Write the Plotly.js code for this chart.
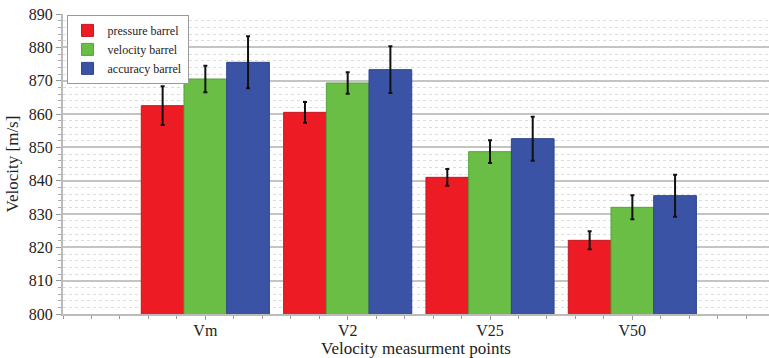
<!DOCTYPE html>
<html>
<head>
<meta charset="utf-8">
<script src="https://cdn.plot.ly/plotly-3.0.1.min.js"></script>
<style>html,body{margin:0;padding:0;background:#fff;}#chart{width:769px;height:358px;}</style>
</head>
<body>
<div id="chart"></div>
<script>
var categories = ["Vm", "V2", "V25", "V50"];
var seriesNames = ["pressure barrel", "velocity barrel", "accuracy barrel"];
var pressureValues = [862.5, 860.5, 841.0, 822.1];
var pressureErrors = [5.8, 3.1, 2.5, 2.7];
var velocityValues = [870.5, 869.3, 848.7, 832.0];
var velocityErrors = [4.0, 3.2, 3.4, 3.6];
var accuracyValues = [875.5, 873.3, 852.6, 835.5];
var accuracyErrors = [7.8, 7.0, 6.6, 6.3];
var yTickVals = [800, 810, 820, 830, 840, 850, 860, 870, 880, 890];

var colors = ["#ED1C24", "#6ABD45", "#3A53A4"];
var borders = ["#C4181F", "#55A33A", "#2E4590"];
var vals = [pressureValues, velocityValues, accuracyValues];
var errs = [pressureErrors, velocityErrors, accuracyErrors];
var xPos = categories.map(function(c, i){ return i; });

var traces = seriesNames.map(function(name, k){
  return {
    type: "bar",
    name: name,
    x: xPos,
    y: vals[k],
    marker: {color: colors[k], line: {color: borders[k], width: 1}},
    error_y: {type: "data", array: errs[k], visible: true, color: "#111", thickness: 2, width: 2}
  };
});

var font = "'Liberation Serif', 'DejaVu Serif', serif";
var layout = {
  width: 769, height: 358,
  margin: {l: 63, r: 0, t: 14, b: 44},
  paper_bgcolor: "#fff", plot_bgcolor: "#fff",
  barmode: "group", bargap: 0.1, bargroupgap: 0,
  showlegend: true,
  legend: {
    x: 0.005, y: 0.997, xanchor: "left", yanchor: "top",
    bgcolor: "#fff", bordercolor: "#999", borderwidth: 1,
    font: {family: font, size: 12, color: "#222"},
    tracegroupgap: 0, itemwidth: 30,
    traceorder: "normal"
  },
  xaxis: {
    range: [-1, 3.96],
    tickmode: "array", tickvals: xPos, ticktext: categories,
    ticks: "outside", ticklen: 4, tickcolor: "#999", tickwidth: 1,
    ticklabelstandoff: -3,
    showgrid: false, zeroline: false,
    showline: true, linecolor: "#bbb", linewidth: 2,
    tickfont: {family: font, size: 16, color: "#222"},
    minor: {dtick: 0.2, tick0: 0, ticks: "outside", ticklen: 3, tickcolor: "#999", showgrid: false},
    title: {text: "Velocity measurment points", font: {family: font, size: 17, color: "#222"}, standoff: 0}
  },
  yaxis: {
    range: [800, 890],
    tickmode: "array", tickvals: yTickVals,
    ticks: "outside", ticklen: 5, tickcolor: "#999", tickwidth: 1,
    showgrid: true, gridcolor: "#c4c4c4", gridwidth: 2,
    zeroline: false,
    showline: true, linecolor: "#bbb", linewidth: 2,
    tickfont: {family: font, size: 16, color: "#222"},
    minor: {dtick: 2, ticks: "outside", ticklen: 3, tickcolor: "#aaa", showgrid: true, gridcolor: "#dcdcdc", griddash: "dot", gridwidth: 1},
    title: {text: "Velocity [m/s]", font: {family: font, size: 17, color: "#222"}, standoff: 6}
  }
};

Plotly.newPlot("chart", traces, layout, {displayModeBar: false, staticPlot: true});
</script>
</body>
</html>
